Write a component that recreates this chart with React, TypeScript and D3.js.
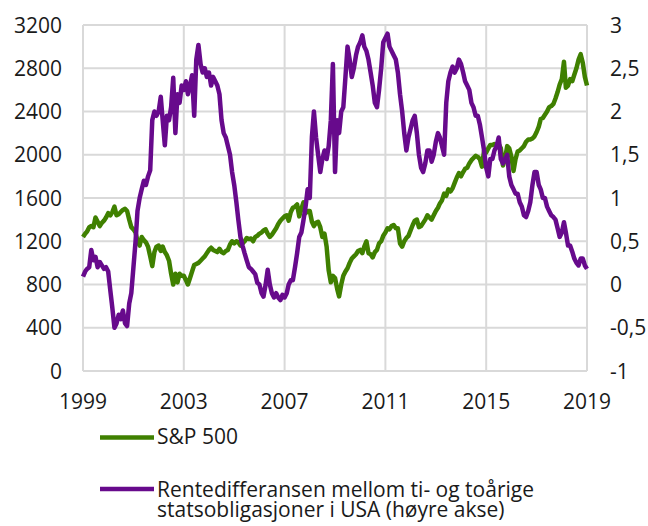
import React from "react";
import * as d3 from "d3";

// Monthly values, Jan 1999 .. Jan 2019
const spValues: number[] = [
  1240, 1270, 1290, 1330, 1340, 1330, 1420, 1380, 1340, 1370, 1390, 1420,
  1460, 1440, 1470, 1520, 1440, 1450, 1470, 1490, 1500, 1480, 1400, 1330,
  1310, 1280, 1200, 1160, 1240, 1210, 1190, 1150, 1060, 970, 1100, 1150,
  1160, 1110, 1150, 1100, 1070, 1020, 900, 800, 900, 820, 900, 880,
  880, 840, 800, 860, 920, 980, 990, 1000, 1020, 1040, 1060, 1090,
  1120, 1140, 1120, 1110, 1100, 1130, 1100, 1090, 1110, 1120, 1170, 1200,
  1180, 1200, 1190, 1160, 1180, 1200, 1230, 1220, 1225, 1200, 1240, 1250,
  1270, 1280, 1300, 1310, 1270, 1240, 1260, 1290, 1320, 1360, 1390, 1410,
  1430, 1440, 1390, 1470, 1510, 1520, 1540, 1430, 1500, 1560, 1460, 1480,
  1480, 1380, 1340, 1370, 1380, 1330, 1240, 1270, 1150, 930, 820, 880,
  860, 760, 690, 800, 880, 920, 950, 1000, 1040, 1060, 1080, 1110,
  1120, 1090, 1150, 1200, 1090, 1080, 1050, 1100, 1120, 1180, 1200, 1250,
  1280, 1320, 1310, 1340, 1350, 1320, 1320, 1180, 1150, 1200, 1230, 1250,
  1300, 1350, 1390, 1400, 1330, 1340, 1370, 1400, 1440, 1420, 1400, 1440,
  1480, 1510, 1550, 1580, 1640, 1620, 1680, 1660, 1690, 1740, 1790, 1830,
  1800, 1840, 1870, 1880, 1920, 1950, 1970, 1990, 1980, 1960, 1890, 2040,
  2020, 2060, 2090, 2090, 2100, 2080, 2100, 2060, 1900, 1960, 2080, 2060,
  1980, 1850, 1960, 2030, 2040, 2060, 2080, 2120, 2140, 2140, 2150, 2170,
  2210, 2260, 2330, 2340, 2370, 2400, 2440, 2450, 2470, 2520, 2580, 2650,
  2700, 2860, 2620, 2640, 2700, 2680, 2740, 2800, 2880, 2930, 2850, 2720,
  2640,
];

const spreadValues: number[] = [
  0.09, 0.15, 0.18, 0.2, 0.4, 0.28, 0.32, 0.2, 0.26, 0.22, 0.18, 0.2,
  0.15, -0.07, -0.27, -0.5, -0.45, -0.35, -0.4, -0.3, -0.45, -0.48, -0.22, -0.1,
  0.2, 0.5, 0.85, 1.0, 1.1, 1.2, 1.15, 1.25, 1.32, 1.9, 2.0, 1.95,
  2.0, 2.17, 1.9, 1.61, 1.95, 1.9, 2.05, 2.39, 1.75, 2.2, 2.1, 2.3,
  2.25, 2.35, 2.2, 2.3, 2.42, 1.95, 2.6, 2.77, 2.55, 2.45, 2.5, 2.4,
  2.45, 2.3, 2.4, 2.35, 2.3, 2.2, 1.9, 1.75, 1.7, 1.6, 1.5, 1.3,
  1.15, 0.95, 0.75, 0.55, 0.45, 0.36, 0.28, 0.2, 0.18, 0.15, 0.12, 0.02,
  0.0, -0.1, -0.14, 0.0, 0.17, 0.0, -0.1, -0.15, -0.1, -0.15, -0.18, -0.12,
  -0.15, -0.1, 0.0, 0.05, 0.05, 0.2, 0.36, 0.55, 0.6, 0.74, 0.9, 1.1,
  1.0, 1.71, 2.0, 1.7, 1.5, 1.3, 1.45, 1.55, 1.45, 1.6, 1.9, 2.55,
  1.3, 1.9, 1.75, 2.0, 2.05, 2.4, 2.75, 2.6, 2.4, 2.5, 2.65, 2.75,
  2.8, 2.88, 2.75, 2.7, 2.6, 2.45, 2.3, 2.1, 2.05, 2.25, 2.5, 2.8,
  2.85, 2.9, 2.75, 2.7, 2.65, 2.6, 2.45, 2.2, 2.0, 1.75, 1.55, 1.7,
  1.8, 1.9, 1.95, 1.75, 1.5, 1.35, 1.3, 1.4, 1.55, 1.55, 1.42, 1.5,
  1.65, 1.75, 1.7, 1.6, 1.5, 2.1, 2.35, 2.45, 2.52, 2.45, 2.5, 2.6,
  2.55, 2.45, 2.35, 2.3, 2.25, 2.1, 2.05, 1.95, 1.95, 1.85, 1.7, 1.55,
  1.35, 1.25, 1.45, 1.45, 1.55, 1.6, 1.7, 1.45, 1.4, 1.45, 1.5, 1.25,
  1.15, 1.1, 1.05, 1.05, 0.95, 0.9, 0.8, 0.78, 0.85, 0.95, 1.15, 1.3,
  1.3, 1.15, 1.1, 1.0, 1.0, 0.9, 0.85, 0.8, 0.78, 0.75, 0.65, 0.55,
  0.6, 0.72, 0.6, 0.45, 0.45, 0.38, 0.3, 0.25, 0.22, 0.3, 0.3, 0.22,
  0.18,
];

const leftTicks = [0, 400, 800, 1200, 1600, 2000, 2400, 2800, 3200];
const rightTicks = [-1, -0.5, 0, 0.5, 1, 1.5, 2, 2.5, 3];
const yearTicks = [1999, 2003, 2007, 2011, 2015, 2019];
const seriesNames = [
  "S&P 500",
  "Rentedifferansen mellom ti- og toårige",
  "statsobligasjoner i USA (høyre akse)",
];

const GREEN = "#3f8000";
const PURPLE = "#670a8c";
const GRID = "#d9d9d9";
const TEXT = "#1a1a1a";
const FONT = "'Open Sans', 'Noto Sans', sans-serif";
const FS = 21;

export default function App() {
  const left = 83, right = 587, top = 25, bottom = 371;
  const start = new Date(1999, 0, 1);
  const x = d3.scaleTime().domain([start, new Date(2019, 0, 1)]).range([left, right]);
  const yL = d3.scaleLinear().domain([0, 3200]).range([bottom, top]);
  const yR = d3.scaleLinear().domain([-1, 3]).range([bottom, top]);
  const dateOf = (i: number) => d3.timeMonth.offset(start, i);

  const spLine = d3.line<number>().x((_, i) => x(dateOf(i))).y((d) => yL(d));
  const rdLine = d3.line<number>().x((_, i) => x(dateOf(i))).y((d) => yR(d));

  const fmtR = (v: number) => String(v).replace(".", ",");

  return (
    <svg width={648} height={526} style={{ position: "absolute", left: 0, top: 0, background: "#fff" }}
      fontFamily={FONT}>
      <rect x={0} y={0} width={648} height={526} fill="#fff" />
      {leftTicks.map((t) => (
        <line key={"h" + t} x1={left} x2={right} y1={yL(t)} y2={yL(t)} stroke={GRID} strokeWidth={2} />
      ))}
      {yearTicks.map((yr) => (
        <line key={"v" + yr} x1={x(new Date(yr, 0, 1))} x2={x(new Date(yr, 0, 1))} y1={top} y2={bottom}
          stroke={GRID} strokeWidth={2} />
      ))}
      <path d={spLine(spValues) || ""} fill="none" stroke={GREEN} strokeWidth={4.5} strokeLinejoin="round" />
      <path d={rdLine(spreadValues) || ""} fill="none" stroke={PURPLE} strokeWidth={4.5} strokeLinejoin="round" />
      {leftTicks.map((t) => (
        <text key={"l" + t} x={62} y={yL(t)} dy="0.36em" textAnchor="end" fontSize={FS} fill={TEXT}>{t}</text>
      ))}
      {rightTicks.map((t) => (
        <text key={"r" + t} x={610} y={yR(t)} dy="0.36em" textAnchor="start" fontSize={FS} fill={TEXT}>{fmtR(t)}</text>
      ))}
      {yearTicks.map((yr) => (
        <text key={"x" + yr} x={x(new Date(yr, 0, 1))} y={409} textAnchor="middle" fontSize={FS} fill={TEXT}>{yr}</text>
      ))}
      <line x1={100} x2={154} y1={437.5} y2={437.5} stroke={GREEN} strokeWidth={4.5} />
      <text x={157} y={443.5} fontSize={FS} fill={TEXT}>{seriesNames[0]}</text>
      <line x1={100} x2={154} y1={489} y2={489} stroke={PURPLE} strokeWidth={4.5} />
      <text x={157} y={496.5} fontSize={FS} fill={TEXT}>
        <tspan x={157} y={496.5}>{seriesNames[1]}</tspan>
        <tspan x={157} y={517}>{seriesNames[2]}</tspan>
      </text>
    </svg>
  );
}
